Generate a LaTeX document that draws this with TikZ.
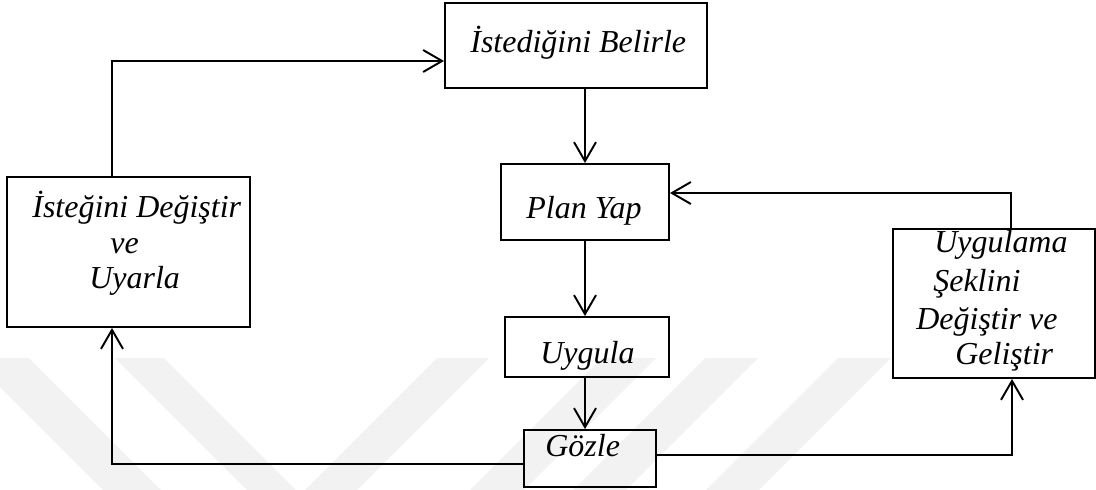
\documentclass[tikz,border=0pt]{standalone}
\usepackage{fontspec}
\setmainfont{Liberation Serif}
\usetikzlibrary{arrows.meta}
\newcommand{\pxu}{0.02cm}
\tikzset{
  box/.style={draw, line width=1.1pt, inner sep=0pt},
  flow/.style={line width=1.1pt, -{Straight Barb[length=0.38cm, width=0.44cm]}},
  lbl/.style={anchor=base west, inner sep=0pt, font=\fontsize{18.2}{22}\selectfont\itshape},
}
\begin{document}
\begin{tikzpicture}[x=0.02cm, y=-0.02cm]
  \useasboundingbox (0,0) rectangle (1096,490);
  % faint stripes in the background
  \fill[black!5] (0,358) -- (29,358) -- (161,490) -- (103,490) -- (0,387) -- cycle;
  \fill[black!5] (115,358) -- (164,358) -- (296,490) -- (247,490) -- cycle;
  \fill[black!5] (437,358) -- (489,358) -- (357,490) -- (305,490) -- cycle;
  \fill[black!5] (602,358) -- (656,358) -- (524,490) -- (470,490) -- cycle;
  \fill[black!5] (705,358) -- (758,358) -- (626,490) -- (573,490) -- cycle;
  \fill[black!5] (838,358) -- (891,358) -- (759,490) -- (706,490) -- cycle;
  % boxes
  \node[box, minimum width=262*\pxu, minimum height=85*\pxu] (belirle) at (576,45.5) {};
  \node[box, minimum width=168*\pxu, minimum height=76*\pxu] (plan) at (585,202) {};
  \node[box, minimum width=164*\pxu, minimum height=60*\pxu] (uygula) at (587,347) {};
  \node[box, minimum width=132*\pxu, minimum height=57*\pxu] (gozle) at (590,458.5) {};
  \node[box, minimum width=243*\pxu, minimum height=150*\pxu] (degistir) at (128.5,252) {};
  \node[box, minimum width=202*\pxu, minimum height=149*\pxu] (gelistir) at (994,303.5) {};
  % texts
  \node[lbl] (tbelirle) at (470,52) {İstediğini Belirle};
  \node[lbl] (tplan) at (526,218) {Plan Yap};
  \node[lbl] (tuygula) at (540,363) {Uygula};
  \node[lbl] (tgozle) at (545,456) {Gözle};
  \node[lbl] (tdeg1) at (32,217) {İsteğini Değiştir};
  \node[lbl] (tdeg2) at (110,253) {ve};
  \node[lbl] (tdeg3) at (89,288) {Uyarla};
  \node[lbl] (tgel1) at (934,252) {Uygulama};
  \node[lbl] (tgel2) at (933,291) {Şeklini};
  \node[lbl] (tgel3) at (916,329) {Değiştir ve};
  \node[lbl] (tgel4) at (955,364) {Geliştir};
  % bends of the connectors
  \coordinate (c1) at (112,61);
  \coordinate (c2) at (1011,193);
  \coordinate (c3) at (112,464);
  \coordinate (c4) at (1012,455);
  % connectors
  \draw[flow] (c1 |- degistir.north) -- (c1) -- (c1 -| belirle.west);
  \draw[flow] (plan.north |- belirle.south) -- (plan.north);
  \draw[flow] (c2 |- gelistir.north) -- (c2) -- (c2 -| plan.east);
  \draw[flow] (plan.south) -- (plan.south |- uygula.north);
  \draw[flow] (plan.south |- uygula.south) -- (plan.south |- gozle.north);
  \draw[flow] (c3 -| gozle.west) -- (c3) -- (c3 |- degistir.south);
  \draw[flow] (c4 -| gozle.east) -- (c4) -- (c4 |- gelistir.south);
\end{tikzpicture}
\end{document}
